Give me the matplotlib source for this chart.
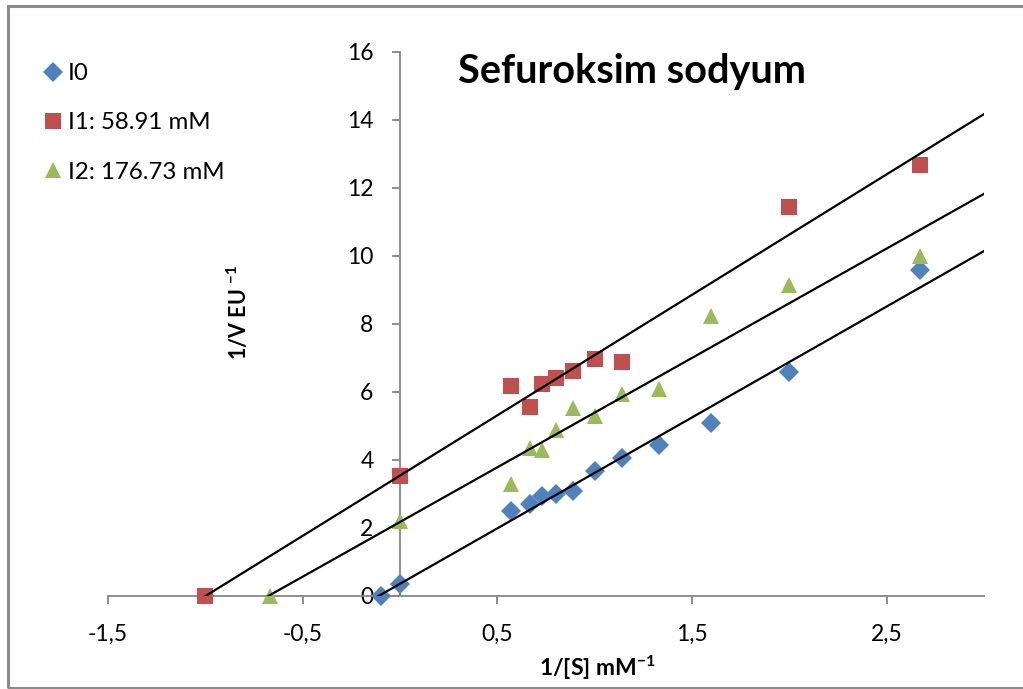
import numpy as np
import matplotlib
matplotlib.use("Agg")
import matplotlib.pyplot as plt
from matplotlib.patches import Rectangle
from matplotlib.ticker import FuncFormatter, FixedLocator

plt.rcParams['font.family'] = ['Lato', 'DejaVu Sans']
plt.rcParams['mathtext.fontset'] = 'custom'
plt.rcParams['mathtext.rm'] = 'Lato:bold'
plt.rcParams['mathtext.default'] = 'rm'

# Lineweaver-Burk data: 1/[S] (mM^-1) vs 1/V (EU^-1)
x_i0 = [-0.1, 0.0, 0.57, 0.67, 0.73, 0.80, 0.89, 1.00, 1.14, 1.33, 1.60, 2.00, 2.67]
y_i0 = [0.0, 0.35, 2.5, 2.72, 2.95, 3.0, 3.1, 3.67, 4.05, 4.45, 5.1, 6.58, 9.58]

x_i1 = [-1.0, 0.0, 0.57, 0.67, 0.73, 0.80, 0.89, 1.00, 1.14, 2.00, 2.67]
y_i1 = [0.0, 3.53, 6.17, 5.57, 6.24, 6.4, 6.63, 6.98, 6.88, 11.44, 12.68]

x_i2 = [-0.67, 0.0, 0.57, 0.67, 0.73, 0.80, 0.89, 1.00, 1.14, 1.33, 1.60, 2.00, 2.67]
y_i2 = [0.0, 2.2, 3.29, 4.35, 4.29, 4.88, 5.53, 5.29, 5.94, 6.09, 8.24, 9.15, 10.0]

labels = ['I0', 'I1: 58.91 mM', 'I2: 176.73 mM']
title = 'Sefuroksim sodyum'
x_ticks = [-1.5, -0.5, 0.5, 1.5, 2.5]
y_ticks = [0, 2, 4, 6, 8, 10, 12, 14, 16]

W, H = 1023, 689
fig = plt.figure(figsize=(W / 100, H / 100), dpi=100)
fig.patch.set_facecolor('white')

# chart-area border
fig.patches.append(Rectangle((8 / W, 1 - 688 / H), 1.2, (688 - 6) / H,
                             transform=fig.transFigure, fill=False,
                             edgecolor='#8c8c8c', linewidth=2.2, zorder=0))

ax = fig.add_axes([108 / W, 1 - 596 / H, (984 - 108) / W, (596 - 52) / H])
ax.set_xlim(-1.5, 3.0)
ax.set_ylim(0, 16)

axis_grey = '#868686'
for side in ('top', 'right'):
    ax.spines[side].set_visible(False)
ax.spines['left'].set_position(('data', 0))
ax.spines['left'].set_color(axis_grey)
ax.spines['bottom'].set_color(axis_grey)
ax.spines['left'].set_linewidth(1.3)
ax.spines['bottom'].set_linewidth(1.3)

ax.xaxis.set_major_locator(FixedLocator(x_ticks))
ax.yaxis.set_major_locator(FixedLocator(y_ticks))
ax.xaxis.set_major_formatter(FuncFormatter(lambda v, p: f'{v:g}'.replace('.', ',')))
ax.yaxis.set_major_formatter(FuncFormatter(lambda v, p: f'{v:g}'))
ax.tick_params(axis='both', direction='out', length=6, width=1.3, color=axis_grey,
               labelsize=16.5, labelcolor='black')
ax.tick_params(axis='x', pad=14)
ax.tick_params(axis='y', pad=13)

series = [
    (x_i0, y_i0, 'D', '#4F81BD', 10),
    (x_i1, y_i1, 's', '#C0504D', 11),
    (x_i2, y_i2, '^', '#9BBB59', 12),
]

xx = np.array([-1.5, 3.0])
for (xs, ys, m, c, ms), lab in zip(series, labels):
    ax.plot(xs, ys, linestyle='none', marker=m, color=c, markersize=ms,
            markeredgewidth=0, label=lab, zorder=3, clip_on=False)
    k, b = np.polyfit(xs, ys, 1)
    ax.plot(xx, k * xx + b, color='black', linewidth=1.6, zorder=4)

fig.text(458 / W, 1 - 72 / H, title, fontsize=28.5, fontweight='bold',
         ha='left', va='center')

ax.set_xlabel('1/[S] mM$^{-1}$', fontsize=16.5, fontweight='bold')
ax.xaxis.set_label_coords((597 - 108) / 876, -(654 - 596) / 544)
fig.text(238 / W, 1 - 313 / H, '1/V EU $^{-1}$', fontsize=15.5, fontweight='bold',
         rotation=90, ha='center', va='center')

leg = fig.legend(loc='upper left', bbox_to_anchor=(34 / W, 1 - 51 / H),
                 frameon=False, fontsize=17.3, handlelength=0.6,
                 handletextpad=0.3, labelspacing=1.18, borderpad=0)

fig.savefig('out.png', dpi=100)
